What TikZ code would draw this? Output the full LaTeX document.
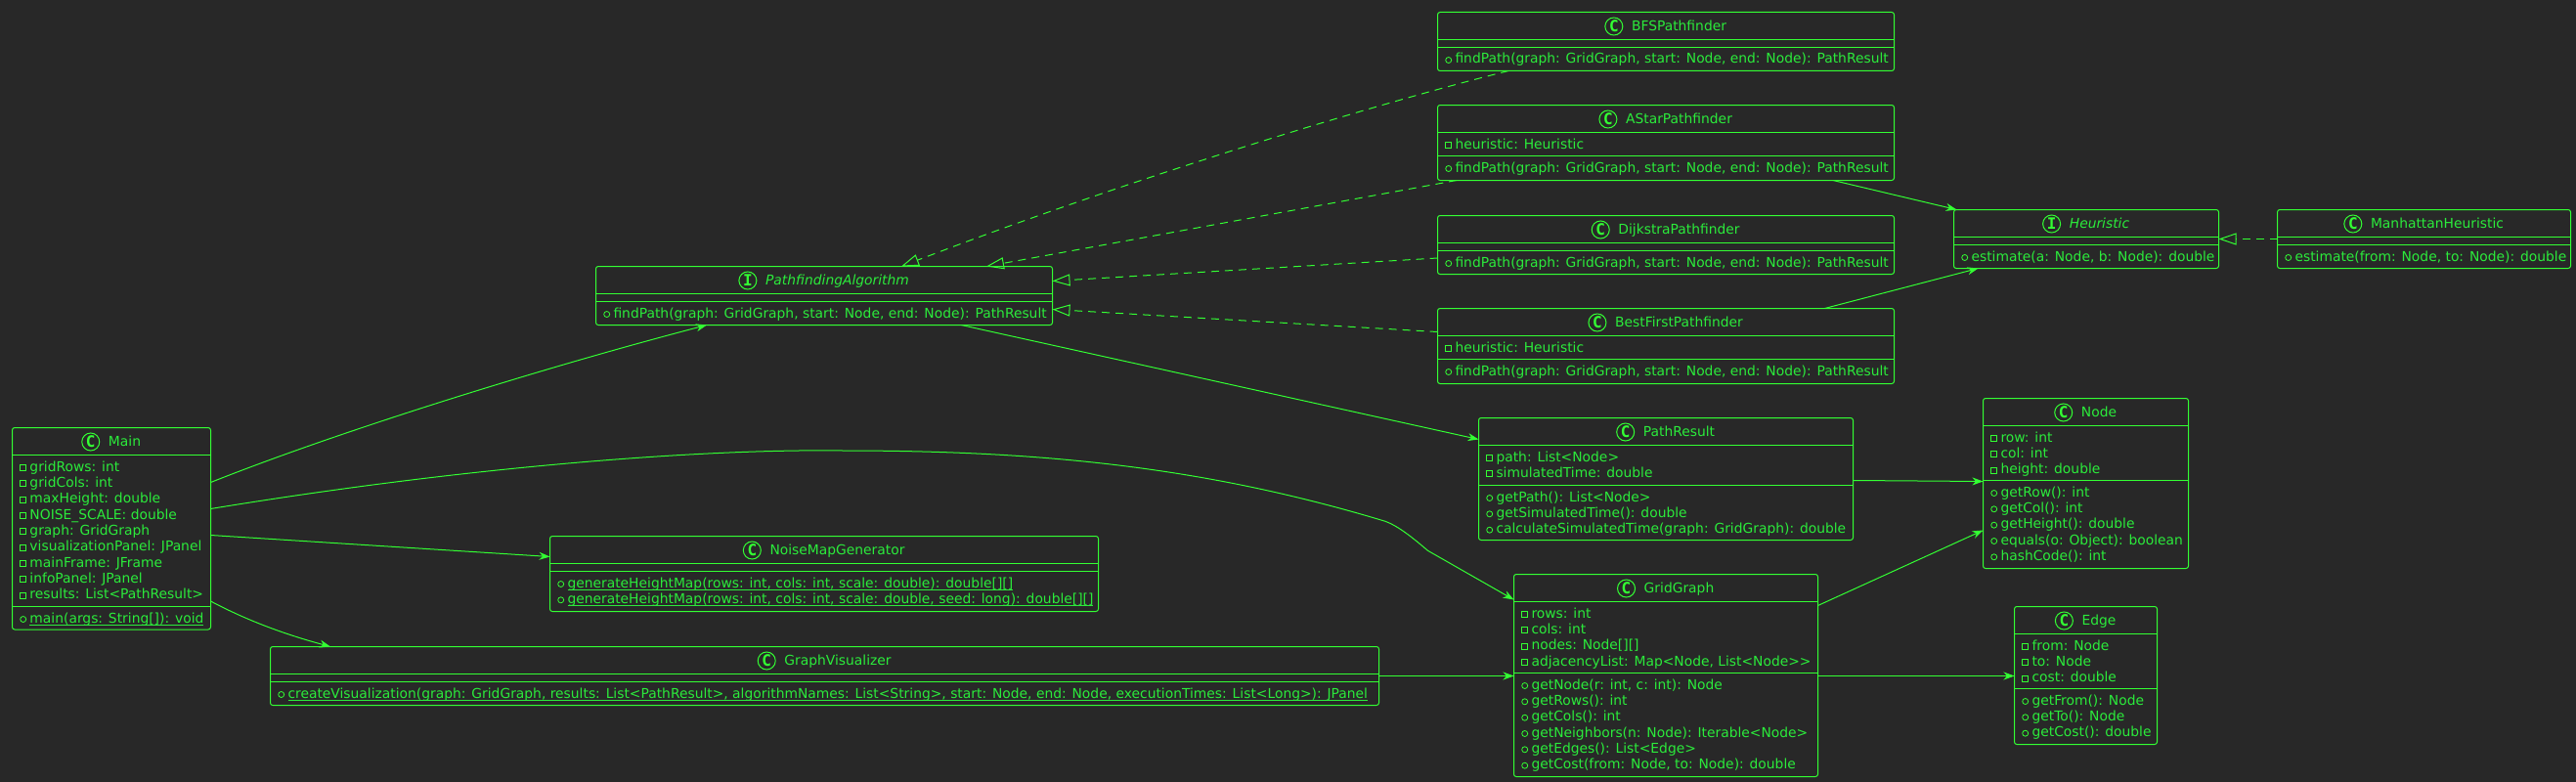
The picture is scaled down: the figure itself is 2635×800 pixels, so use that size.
\documentclass[tikz,border=0pt]{standalone}
\usepackage{fontspec}
\setmainfont{DejaVu Sans}
\setmonofont{DejaVu Sans Mono}
\usetikzlibrary{arrows.meta}
\definecolor{umlline}{HTML}{33FF33}
\definecolor{umltext}{HTML}{2BEB3B}
\definecolor{umlback}{HTML}{282828}
\newcommand{\ulined}[1]{\setbox0=\hbox{#1}\rlap{\rule[-2.9pt]{\wd0}{.9pt}}\box0}

\begin{document}
\begin{tikzpicture}[x=1pt, y=-1pt, >={Stealth[length=11pt, width=8pt, inset=3.5pt]},
    every node/.style={text=umltext, font=\fontsize{13.85}{16}\selectfont},
    classbox/.style={draw=umlline, line width=1pt, rounded corners=2.5pt, inner sep=0, outer sep=0},
    sepline/.style={draw=umlline, line width=1pt},
    classtitle/.style={anchor=base, inner sep=0},
    classicon/.style={circle, draw=umlline, line width=1pt, minimum size=18pt, inner sep=0, text=umlline, font=\fontsize{16}{16}\ttfamily\bfseries},
    fieldmark/.style={rectangle, draw=umlline, line width=.8pt, minimum size=6pt, inner sep=0, outer sep=0, text height=0pt, text depth=0pt, xshift=-3.8pt},
    methodmark/.style={circle, draw=umlline, line width=.8pt, minimum size=6pt, inner sep=0, outer sep=0, text height=0pt, text depth=0pt, xshift=-3.8pt},
    fieldrow/.style={anchor=base west, inner sep=0, outer sep=0, text height=10pt, text depth=3pt, label={[fieldmark]left:{}}},
    methodrow/.style={anchor=base west, inner sep=0, outer sep=0, text height=10pt, text depth=3pt, label={[methodmark]left:{}}},
    assoc/.style={->, draw=umlline, line width=1pt},
    realize/.style={draw=umlline, line width=1pt, dash pattern=on 8pt off 6pt, -{Triangle[open, length=18pt, width=12pt]}}]
    \fill[umlback] (0, 0) rectangle (2635, 800);
    \useasboundingbox (0, 0) rectangle (2635, 800);

    % main
    \node[classbox, minimum width=203pt, minimum height=206.5pt] (main) at (114, 540.75) {};
    \node[classtitle] (maintitle) at ([xshift=13.5pt, yshift=-19pt]main.north) {Main};
    \node[classicon] (mainicon) at ([xshift=-18pt, yshift=4.5pt]maintitle.base west) {C};
    \draw[sepline] ([yshift=-28pt]main.north west) -- ([yshift=-28pt]main.north east);
    \draw[sepline] ([yshift=-183pt]main.north west) -- ([yshift=-183pt]main.north east);
    \node[fieldrow] (main1) at (30.5, 482) {gridRows: int};
    \node[fieldrow] (main2) at (30.5, 498.3) {gridCols: int};
    \node[fieldrow] (main3) at (30.5, 514.7) {maxHeight: double};
    \node[fieldrow] (main4) at (30.5, 531) {NOISE\_SCALE: double};
    \node[fieldrow] (main5) at (30.5, 547.3) {graph: GridGraph};
    \node[fieldrow] (main6) at (30.5, 563.7) {visualizationPanel: JPanel};
    \node[fieldrow] (main7) at (30.5, 580) {mainFrame: JFrame};
    \node[fieldrow] (main8) at (30.5, 596.3) {infoPanel: JPanel};
    \node[fieldrow] (main9) at (30.5, 612.7) {results: List<PathResult>};
    \node[methodrow] (main10) at (30.5, 637) {\ulined{main(args: String[]): void}};

    % pathfinding interface
    \node[classbox, minimum width=467pt, minimum height=60pt] (algo) at (843, 302.5) {};
    \node[classtitle] (algotitle) at ([xshift=13.5pt, yshift=-19pt]algo.north) {\itshape PathfindingAlgorithm};
    \node[classicon] (algoicon) at ([xshift=-18pt, yshift=4.5pt]algotitle.base west) {I};
    \draw[sepline] ([yshift=-28pt]algo.north west) -- ([yshift=-28pt]algo.north east);
    \draw[sepline] ([yshift=-36pt]algo.north west) -- ([yshift=-36pt]algo.north east);
    \node[methodrow] (algo1) at (627.5, 325) {findPath(graph: GridGraph, start: Node, end: Node): PathResult};

    % noise map
    \node[classbox, minimum width=561pt, minimum height=77pt] (noise) at (843, 587) {};
    \node[classtitle] (noisetitle) at ([xshift=13.5pt, yshift=-19pt]noise.north) {NoiseMapGenerator};
    \node[classicon] (noiseicon) at ([xshift=-18pt, yshift=4.5pt]noisetitle.base west) {C};
    \draw[sepline] ([yshift=-28pt]noise.north west) -- ([yshift=-28pt]noise.north east);
    \draw[sepline] ([yshift=-36pt]noise.north west) -- ([yshift=-36pt]noise.north east);
    \node[methodrow] (noise1) at (580.5, 601) {\ulined{generateHeightMap(rows: int, cols: int, scale: double): double[][]}};
    \node[methodrow] (noise2) at (580.5, 617.3) {\ulined{generateHeightMap(rows: int, cols: int, scale: double, seed: long): double[][]}};

    % visualizer
    \node[classbox, minimum width=1134pt, minimum height=60pt] (visual) at (843.5, 691.5) {};
    \node[classtitle] (visualtitle) at ([xshift=13.5pt, yshift=-19pt]visual.north) {GraphVisualizer};
    \node[classicon] (visualicon) at ([xshift=-18pt, yshift=4.5pt]visualtitle.base west) {C};
    \draw[sepline] ([yshift=-28pt]visual.north west) -- ([yshift=-28pt]visual.north east);
    \draw[sepline] ([yshift=-36pt]visual.north west) -- ([yshift=-36pt]visual.north east);
    \node[methodrow] (visual1) at (294.5, 714) {\ulined{createVisualization(graph: GridGraph, results: List<PathResult>, algorithmNames: List<String>, start: Node, end: Node, executionTimes: List<Long>): JPanel}};

    % bfs
    \node[classbox, minimum width=467pt, minimum height=60pt] (bfs) at (1704, 42.5) {};
    \node[classtitle] (bfstitle) at ([xshift=13.5pt, yshift=-19pt]bfs.north) {BFSPathfinder};
    \node[classicon] (bfsicon) at ([xshift=-18pt, yshift=4.5pt]bfstitle.base west) {C};
    \draw[sepline] ([yshift=-28pt]bfs.north west) -- ([yshift=-28pt]bfs.north east);
    \draw[sepline] ([yshift=-36pt]bfs.north west) -- ([yshift=-36pt]bfs.north east);
    \node[methodrow] (bfs1) at (1488.5, 65) {findPath(graph: GridGraph, start: Node, end: Node): PathResult};

    % astar
    \node[classbox, minimum width=467pt, minimum height=77pt] (astar) at (1704, 146) {};
    \node[classtitle] (astartitle) at ([xshift=13.5pt, yshift=-19pt]astar.north) {AStarPathfinder};
    \node[classicon] (astaricon) at ([xshift=-18pt, yshift=4.5pt]astartitle.base west) {C};
    \draw[sepline] ([yshift=-28pt]astar.north west) -- ([yshift=-28pt]astar.north east);
    \draw[sepline] ([yshift=-52pt]astar.north west) -- ([yshift=-52pt]astar.north east);
    \node[fieldrow] (astar1) at (1488.5, 152) {heuristic: Heuristic};
    \node[methodrow] (astar2) at (1488.5, 176) {findPath(graph: GridGraph, start: Node, end: Node): PathResult};

    % dijkstra
    \node[classbox, minimum width=467pt, minimum height=60pt] (dijkstra) at (1704, 250.5) {};
    \node[classtitle] (dijkstratitle) at ([xshift=13.5pt, yshift=-19pt]dijkstra.north) {DijkstraPathfinder};
    \node[classicon] (dijkstraicon) at ([xshift=-18pt, yshift=4.5pt]dijkstratitle.base west) {C};
    \draw[sepline] ([yshift=-28pt]dijkstra.north west) -- ([yshift=-28pt]dijkstra.north east);
    \draw[sepline] ([yshift=-36pt]dijkstra.north west) -- ([yshift=-36pt]dijkstra.north east);
    \node[methodrow] (dijkstra1) at (1488.5, 273) {findPath(graph: GridGraph, start: Node, end: Node): PathResult};

    % best first
    \node[classbox, minimum width=467pt, minimum height=77pt] (best) at (1704, 354) {};
    \node[classtitle] (besttitle) at ([xshift=13.5pt, yshift=-19pt]best.north) {BestFirstPathfinder};
    \node[classicon] (besticon) at ([xshift=-18pt, yshift=4.5pt]besttitle.base west) {C};
    \draw[sepline] ([yshift=-28pt]best.north west) -- ([yshift=-28pt]best.north east);
    \draw[sepline] ([yshift=-52pt]best.north west) -- ([yshift=-52pt]best.north east);
    \node[fieldrow] (best1) at (1488.5, 360) {heuristic: Heuristic};
    \node[methodrow] (best2) at (1488.5, 384) {findPath(graph: GridGraph, start: Node, end: Node): PathResult};

    % path result
    \node[classbox, minimum width=383pt, minimum height=125pt] (result) at (1704, 490) {};
    \node[classtitle] (resulttitle) at ([xshift=13.5pt, yshift=-19pt]result.north) {PathResult};
    \node[classicon] (resulticon) at ([xshift=-18pt, yshift=4.5pt]resulttitle.base west) {C};
    \draw[sepline] ([yshift=-28pt]result.north west) -- ([yshift=-28pt]result.north east);
    \draw[sepline] ([yshift=-69pt]result.north west) -- ([yshift=-69pt]result.north east);
    \node[fieldrow] (result1) at (1530.5, 472) {path: List<Node>};
    \node[fieldrow] (result2) at (1530.5, 488.3) {simulatedTime: double};
    \node[methodrow] (result3) at (1530.5, 513) {getPath(): List<Node>};
    \node[methodrow] (result4) at (1530.5, 529.3) {getSimulatedTime(): double};
    \node[methodrow] (result5) at (1530.5, 545.7) {calculateSimulatedTime(graph: GridGraph): double};

    % grid graph
    \node[classbox, minimum width=311pt, minimum height=207pt] (grid) at (1704, 691) {};
    \node[classtitle] (gridtitle) at ([xshift=13.5pt, yshift=-19pt]grid.north) {GridGraph};
    \node[classicon] (gridicon) at ([xshift=-18pt, yshift=4.5pt]gridtitle.base west) {C};
    \draw[sepline] ([yshift=-28pt]grid.north west) -- ([yshift=-28pt]grid.north east);
    \draw[sepline] ([yshift=-101pt]grid.north west) -- ([yshift=-101pt]grid.north east);
    \node[fieldrow] (grid1) at (1566.5, 632) {rows: int};
    \node[fieldrow] (grid2) at (1566.5, 648.3) {cols: int};
    \node[fieldrow] (grid3) at (1566.5, 664.7) {nodes: Node[][]};
    \node[fieldrow] (grid4) at (1566.5, 681) {adjacencyList: Map<Node, List<Node>{}>};
    \node[methodrow] (grid5) at (1566.5, 705) {getNode(r: int, c: int): Node};
    \node[methodrow] (grid6) at (1566.5, 721.3) {getRows(): int};
    \node[methodrow] (grid7) at (1566.5, 737.7) {getCols(): int};
    \node[methodrow] (grid8) at (1566.5, 754) {getNeighbors(n: Node): Iterable<Node>};
    \node[methodrow] (grid9) at (1566.5, 770.3) {getEdges(): List<Edge>};
    \node[methodrow] (grid10) at (1566.5, 786.7) {getCost(from: Node, to: Node): double};

    % heuristic interface
    \node[classbox, minimum width=271pt, minimum height=60pt] (heur) at (2134, 244.5) {};
    \node[classtitle] (heurtitle) at ([xshift=13.5pt, yshift=-19pt]heur.north) {\itshape Heuristic};
    \node[classicon] (heuricon) at ([xshift=-18pt, yshift=4.5pt]heurtitle.base west) {I};
    \draw[sepline] ([yshift=-28pt]heur.north west) -- ([yshift=-28pt]heur.north east);
    \draw[sepline] ([yshift=-36pt]heur.north west) -- ([yshift=-36pt]heur.north east);
    \node[methodrow] (heur1) at (2016.5, 267) {estimate(a: Node, b: Node): double};

    % manhattan
    \node[classbox, minimum width=300pt, minimum height=60pt] (manhattan) at (2479.5, 244.5) {};
    \node[classtitle] (manhattantitle) at ([xshift=13.5pt, yshift=-19pt]manhattan.north) {ManhattanHeuristic};
    \node[classicon] (manhattanicon) at ([xshift=-18pt, yshift=4.5pt]manhattantitle.base west) {C};
    \draw[sepline] ([yshift=-28pt]manhattan.north west) -- ([yshift=-28pt]manhattan.north east);
    \draw[sepline] ([yshift=-36pt]manhattan.north west) -- ([yshift=-36pt]manhattan.north east);
    \node[methodrow] (manhattan1) at (2347.5, 267) {estimate(from: Node, to: Node): double};

    % node class
    \node[classbox, minimum width=210pt, minimum height=174pt] (vertex) at (2133.5, 494.5) {};
    \node[classtitle] (vertextitle) at ([xshift=13.5pt, yshift=-19pt]vertex.north) {Node};
    \node[classicon] (vertexicon) at ([xshift=-18pt, yshift=4.5pt]vertextitle.base west) {C};
    \draw[sepline] ([yshift=-28pt]vertex.north west) -- ([yshift=-28pt]vertex.north east);
    \draw[sepline] ([yshift=-84pt]vertex.north west) -- ([yshift=-84pt]vertex.north east);
    \node[fieldrow] (vertex1) at (2046.5, 452) {row: int};
    \node[fieldrow] (vertex2) at (2046.5, 468.3) {col: int};
    \node[fieldrow] (vertex3) at (2046.5, 484.7) {height: double};
    \node[methodrow] (vertex4) at (2046.5, 508) {getRow(): int};
    \node[methodrow] (vertex5) at (2046.5, 524.3) {getCol(): int};
    \node[methodrow] (vertex6) at (2046.5, 540.7) {getHeight(): double};
    \node[methodrow] (vertex7) at (2046.5, 557) {equals(o: Object): boolean};
    \node[methodrow] (vertex8) at (2046.5, 573.3) {hashCode(): int};

    % edge class
    \node[classbox, minimum width=146pt, minimum height=141pt] (link) at (2133.5, 691) {};
    \node[classtitle] (linktitle) at ([xshift=13.5pt, yshift=-19pt]link.north) {Edge};
    \node[classicon] (linkicon) at ([xshift=-18pt, yshift=4.5pt]linktitle.base west) {C};
    \draw[sepline] ([yshift=-28pt]link.north west) -- ([yshift=-28pt]link.north east);
    \draw[sepline] ([yshift=-84pt]link.north west) -- ([yshift=-84pt]link.north east);
    \node[fieldrow] (link1) at (2078.5, 665) {from: Node};
    \node[fieldrow] (link2) at (2078.5, 681.3) {to: Node};
    \node[fieldrow] (link3) at (2078.5, 697.7) {cost: double};
    \node[methodrow] (link4) at (2078.5, 721) {getFrom(): Node};
    \node[methodrow] (link5) at (2078.5, 737.3) {getTo(): Node};
    \node[methodrow] (link6) at (2078.5, 753.7) {getCost(): double};

    % main uses
    \draw[assoc] ([yshift=-56pt]main.north east) .. controls (350, 440) and (560, 375) .. ([xshift=113.5pt]algo.south west);
    \draw[assoc] ([yshift=-83pt]main.north east) .. controls (480, 477) and (720, 459) .. (862, 461) .. controls (1072, 461) and (1237, 479) .. (1417, 533.3) .. controls (1430, 538) and (1445, 550) .. (1460.5, 563.3) -- ([yshift=-26pt]grid.north west);
    \draw[assoc] ([yshift=-110pt]main.north east) -- ([yshift=-21pt]noise.north west);
    \draw[assoc] ([yshift=-177.5pt]main.north east) .. controls (255, 636) and (295, 650) .. ([xshift=61.5pt]visual.north west);

    % others
    \draw[assoc] ([xshift=373.8pt]algo.south west) -- ([yshift=-22pt]result.north west);
    \draw[assoc] ([yshift=-64pt]result.north east) -- ([yshift=-85pt]vertex.north west);
    \draw[assoc] ([yshift=-32pt]grid.north east) -- ([yshift=-135pt]vertex.north west);
    \draw[assoc] ([yshift=-104pt]grid.north east) -- ([yshift=-71pt]link.north west);
    \draw[assoc] ([yshift=-30pt]visual.north east) -- ([yshift=-104pt]grid.north west);
    \draw[assoc] ([xshift=404.5pt]astar.south west) -- ([xshift=3pt]heur.north west);
    \draw[assoc] ([xshift=396pt]best.north west) -- ([xshift=25pt]heur.south west);

    % implements
    \draw[realize] ([yshift=-30pt]manhattan.north west) -- ([yshift=-30pt]heur.north east);
    \draw[realize] ([xshift=72.5pt]bfs.south west) .. controls (1400, 108) and (1150, 185) .. ([xshift=312.5pt]algo.north west);
    \draw[realize] ([xshift=19.5pt]astar.south west) -- ([xshift=399.5pt]algo.north west);
    \draw[realize] ([yshift=-43.5pt]dijkstra.north west) -- ([yshift=-15pt]algo.north east);
    \draw[realize] ([yshift=-24pt]best.north west) -- ([yshift=-44pt]algo.north east);
\end{tikzpicture}
\end{document}
